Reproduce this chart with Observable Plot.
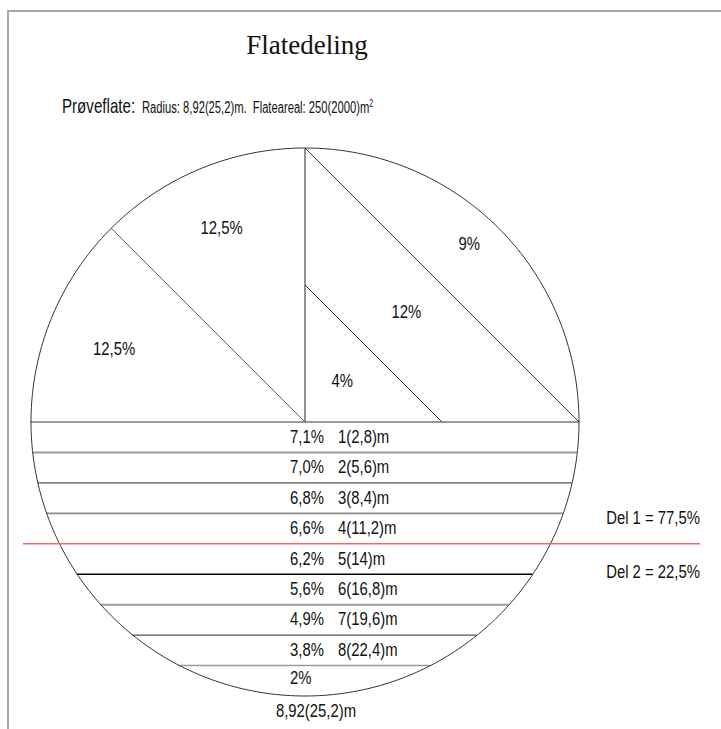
<!DOCTYPE html>
<html>
<head>
<meta charset="utf-8">
<script src="https://cdn.jsdelivr.net/npm/d3@7"></script>
<script src="https://cdn.jsdelivr.net/npm/@observablehq/plot@0.6"></script>
<style>
  html, body { margin: 0; padding: 0; background: #fff; }
  #wrap { position: relative; width: 721px; height: 729px; overflow: hidden; }
  #frame { position: absolute; left: 7px; top: 10px; right: -2px; bottom: -2px;
           border-left: 2px solid #a8a8a8; border-top: 2px solid #a8a8a8; }
  #title { position: absolute; left: 0; width: 614px; top: 30px; text-align: center;
           font-family: "Liberation Serif", "Times New Roman", serif; font-size: 27px; color: #111; }
  #subtitle { position: absolute; left: 62px; top: 91px; color: #111; white-space: nowrap;
              font-family: "Liberation Sans", Arial, sans-serif; line-height: 26px; }
  #subtitle .big { display: inline-block; width: 80px; font-size: 21px; transform: scaleX(0.72); transform-origin: left; }
  #subtitle .small { display: inline-block; font-size: 16px; transform: scaleX(0.70); transform-origin: left; }
  #subtitle sup { font-size: 10px; }
  #chart { position: absolute; left: 0; top: 0; }
</style>
</head>
<body>
<div id="wrap">
  <div id="frame"></div>
  <div id="title"></div>
  <div id="subtitle"></div>
  <div id="chart"></div>
</div>
<script>
// ---- data ----
const titleText = "Flatedeling";
const subtitleLead = "Prøveflate:";
const subtitleRest = "Radius: 8,92(25,2)m.\u00A0\u00A0Flateareal: 250(2000)m";
const radiusM = 25.2;                 // plot radius in m (large plot)
const stripDepths = [0, 2.8, 5.6, 8.4, 11.2, 14, 16.8, 19.6, 22.4]; // strip top edges below centre, m
const stripPct = ["7,1%", "7,0%", "6,8%", "6,6%", "6,2%", "5,6%", "4,9%", "3,8%", "2%"];
const stripName = ["1(2,8)m", "2(5,6)m", "3(8,4)m", "4(11,2)m", "5(14)m", "6(16,8)m", "7(19,6)m", "8(22,4)m", ""];
const splitDepth = 11.2;              // Del 1 / Del 2 boundary
const delLabels = ["Del 1 = 77,5%", "Del 2 = 22,5%"];
const leftSectorPct = ["12,5%", "12,5%"];   // upper-left quarter, two 45° sectors
const rightBandPct = ["4%", "12%", "9%"];   // upper-right quarter, inner to outer bands
const bottomLabel = "8,92(25,2)m";

// ---- header ----
document.getElementById("title").textContent = titleText;
const sub = document.getElementById("subtitle");
const s1 = document.createElement("span"); s1.className = "big"; s1.textContent = subtitleLead;
const s2 = document.createElement("span"); s2.className = "small"; s2.textContent = subtitleRest;
const s3 = document.createElement("sup"); s3.textContent = "2";
s2.appendChild(s3);
sub.append(s1, s2);

// ---- geometry derived from the radius ----
const R = radiusM;
const rad = a => a * Math.PI / 180;
const circle = d3.range(0, 361).map(a => ({x: R * Math.cos(rad(a)), y: R * Math.sin(rad(a))}));
const half = d => Math.sqrt(Math.max(0, R * R - d * d));
const chords = stripDepths.map((d, i) => ({i, d, x1: -half(d), x2: half(d)})).filter(c => c.d !== splitDepth);
const chordStroke = ["#333", "#9a9a9a", "#555", "#8a8a8a", "#000", "#000", "#9a9a9a", "#555", "#9a9a9a"];
const chordWidth = [1, 2, 1.2, 1.6, 1.4, 1.4, 2, 1.2, 1.6];
const c45 = Math.SQRT1_2;
const links = [
  {x1: 0, y1: 0, x2: 0, y2: -R, s: "#222"},
  {x1: 0, y1: 0, x2: -R * c45, y2: -R * c45, s: "#666"},
  {x1: 0, y1: -R, x2: R, y2: 0, s: "#333"},
  {x1: 0, y1: -R / 2, x2: R / 2, y2: 0, s: "#333"}
];
const strips = stripPct.map((p, i) => ({p, n: stripName[i], y: stripDepths[i] + (i < 8 ? stripDepths[1] / 2 : (R - stripDepths[i]) / 2 - 0.2)}));
// left sectors: labels near mid-angle of each 45° sector
const leftLabels = leftSectorPct.map((t, i) => {
  const a = rad(113.3 + 46 * i), f = i === 0 ? 0.77 : 0.745;
  return {t, x: f * R * Math.cos(a), y: -f * R * Math.sin(a)};
});
// right bands: labels along a ray just above the 45° diagonal
const bandDist = [0.2, 0.545, 0.884];
const rightLabels = rightBandPct.map((t, i) => ({t, x: bandDist[i] * R * Math.cos(rad(47.3)), y: -bandDist[i] * R * Math.sin(rad(47.3))}));

const font = "'Liberation Sans', Arial, sans-serif";

const plot = Plot.plot({
  width: 721,
  height: 729,
  marginLeft: 30.5,
  marginRight: 142.5,
  marginTop: 147.5,
  marginBottom: 33.5,
  x: {domain: [-R, R], axis: null},
  y: {domain: [-R, R], reverse: true, axis: null},
  style: {fontFamily: font, fontSize: "17.5px", background: "transparent", overflow: "visible"},
  marks: [
    Plot.ruleY(chords, {y: "d", x1: "x1", x2: "x2", stroke: c => chordStroke[c.i], strokeWidth: c => chordWidth[c.i]}),
    Plot.link(links, {x1: "x1", y1: "y1", x2: "x2", y2: "y2", stroke: "s", strokeWidth: 1}),
    Plot.line(circle, {x: "x", y: "y", stroke: "#333", strokeWidth: 1}),
    Plot.ruleY([splitDepth], {stroke: "#e86a6a", strokeWidth: 1.4, insetLeft: -7.5, insetRight: -121.5}),
    Plot.text(strips, {x: 0, y: "y", text: "p", textAnchor: "start", dx: -15, fill: "#111"}),
    Plot.text(strips, {x: 0, y: "y", text: "n", textAnchor: "start", dx: 33, fill: "#111"}),
    Plot.text(delLabels, {x: R, y: [splitDepth - 2.3, splitDepth + 2.6], text: d => d, textAnchor: "end", dx: 121, fill: "#111"}),
    Plot.text(leftLabels, {x: "x", y: "y", text: "t", fill: "#111"}),
    Plot.text(rightLabels, {x: "x", y: "y", text: "t", fill: "#111"}),
    Plot.text([bottomLabel], {x: 0, y: R, text: d => d, dx: 11, dy: 15, fill: "#111"})
  ]
});
document.getElementById("chart").appendChild(plot);
// condensed (narrow) look for the label font: squeeze glyphs horizontally, keeping anchors
plot.querySelectorAll("text").forEach(t => {
  const L = t.getComputedTextLength();
  if (L > 0) {
    t.setAttribute("textLength", (L * 0.85).toFixed(2));
    t.setAttribute("lengthAdjust", "spacingAndGlyphs");
  }
});
</script>
</body>
</html>
